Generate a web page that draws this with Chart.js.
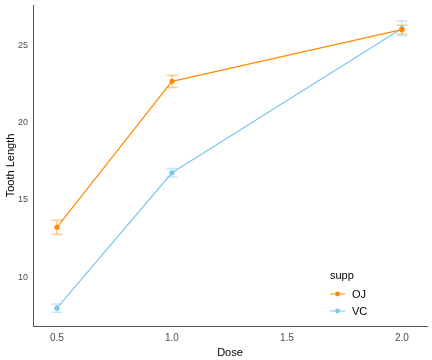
<!DOCTYPE html>
<html>
<head>
<meta charset="utf-8">
<script src="https://cdn.jsdelivr.net/npm/chart.js@4/dist/chart.umd.min.js"></script>
<style>
  html, body { margin: 0; padding: 0; background: #fff; }
  #wrap { width: 432px; height: 360px; }
</style>
</head>
<body>
<div id="wrap"><canvas id="myChart" width="432" height="360"></canvas></div>
<script>
// data
let doses = [0.5, 1.0, 2.0];
let ojMean = [13.23, 22.70, 26.06];
let ojErr = [0.46, 0.39, 0.28];
let vcMean = [7.98, 16.77, 26.14];
let vcErr = [0.27, 0.28, 0.48];
let xTicks = [0.5, 1.0, 1.5, 2.0];
let yTicks = [10, 15, 20, 25];

let ojColor = "#FF8C00";
let vcColor = "#7EC8E8";

function toPoints(ys) {
	return doses.map(function (d, i) { return { x: d, y: ys[i] }; });
}

// error bars drawn through the chart scales
let errorBars = {
	id: "errorBars",
	beforeDatasetsDraw: function (chart) {
		let ctx = chart.ctx;
		let xs = chart.scales.x;
		let ys = chart.scales.y;
		chart.data.datasets.forEach(function (ds) {
			ctx.save();
			ctx.strokeStyle = ds.errColor;
			ctx.lineWidth = 1.5;
			ds.data.forEach(function (p, i) {
				let px = xs.getPixelForValue(p.x);
				let top = ys.getPixelForValue(p.y + ds.err[i]);
				let bot = ys.getPixelForValue(p.y - ds.err[i]);
				ctx.beginPath();
				ctx.moveTo(px, top); ctx.lineTo(px, bot);
				ctx.moveTo(px - 5.5, top); ctx.lineTo(px + 5.5, top);
				ctx.moveTo(px - 5.5, bot); ctx.lineTo(px + 5.5, bot);
				ctx.stroke();
			});
			ctx.restore();
		});
	}
};

// legend in the lower right of the panel, ggplot style
let suppLegend = {
	id: "suppLegend",
	afterDraw: function (chart) {
		let ctx = chart.ctx;
		ctx.save();
		ctx.fillStyle = "#000";
		ctx.font = "11px 'Liberation Sans', Arial, sans-serif";
		ctx.textBaseline = "middle";
		ctx.textAlign = "left";
		ctx.fillText("supp", 330, 276);
		chart.data.datasets.forEach(function (ds, i) {
			let y = 294 + i * 17;
			ctx.strokeStyle = ds.borderColor;
			ctx.lineWidth = 1;
			ctx.beginPath();
			ctx.moveTo(330, y); ctx.lineTo(345, y);
			ctx.stroke();
			ctx.fillStyle = ds.backgroundColor;
			ctx.beginPath();
			ctx.arc(337.5, y, 2.4, 0, Math.PI * 2);
			ctx.fill();
			ctx.fillStyle = "#000";
			ctx.fillText(ds.label, 352, y + 0.5);
		});
		ctx.restore();
	}
};

var ctx = document.getElementById("myChart");
var chart = new Chart(ctx, {
	type: "scatter",
	data: {
		datasets: [
			{
				label: "OJ",
				data: toPoints(ojMean),
				err: ojErr,
				errColor: "rgba(255,140,0,0.45)",
				showLine: true,
				borderColor: ojColor,
				backgroundColor: ojColor,
				borderWidth: 1.2,
				pointRadius: 2.6,
				pointBorderWidth: 0
			},
			{
				label: "VC",
				data: toPoints(vcMean),
				err: vcErr,
				errColor: "rgba(126,200,232,0.45)",
				showLine: true,
				borderColor: vcColor,
				backgroundColor: vcColor,
				borderWidth: 1.2,
				pointRadius: 2.6,
				pointBorderWidth: 0
			}
		]
	},
	plugins: [errorBars, suppLegend],
	options: {
		responsive: false,
		animation: false,
		layout: { padding: { left: 4, right: 5, top: 5, bottom: 0 } },
		plugins: {
			legend: { display: false },
			tooltip: { enabled: false }
		},
		scales: {
			x: {
				type: "linear",
				min: 0.396,
				max: 2.109,
				afterBuildTicks: function (axis) {
					axis.ticks = xTicks.map(function (v) { return { value: v }; });
				},
				afterFit: function (axis) {
					axis.height = 34;
					axis.paddingLeft = 0;
					axis.paddingRight = 0;
				},
				grid: { display: false, drawTicks: false },
				border: { display: true, color: "#555", width: 1 },
				ticks: {
					color: "#4d4d4d",
					padding: 6,
					font: { family: "'Liberation Sans', Arial, sans-serif", size: 10 },
					callback: function (v) { return v.toFixed(1); }
				},
				title: {
					display: true,
					text: "Dose",
					color: "#000",
					padding: { top: 2, bottom: 0 },
					font: { family: "'Liberation Sans', Arial, sans-serif", size: 11 }
				}
			},
			y: {
				min: 6.82,
				max: 27.66,
				afterBuildTicks: function (axis) {
					axis.ticks = yTicks.map(function (v) { return { value: v }; });
				},
				afterFit: function (axis) {
					axis.width = 29;
					axis.paddingTop = 0;
					axis.paddingBottom = 0;
				},
				grid: { display: false, drawTicks: false },
				border: { display: true, color: "#555", width: 1 },
				ticks: {
					color: "#4d4d4d",
					padding: 5,
					font: { family: "'Liberation Sans', Arial, sans-serif", size: 9 }
				},
				title: {
					display: true,
					text: "Tooth Length",
					color: "#000",
					padding: { top: 0, bottom: 2 },
					font: { family: "'Liberation Sans', Arial, sans-serif", size: 11 }
				}
			}
		}
	}
});
</script>
</body>
</html>
